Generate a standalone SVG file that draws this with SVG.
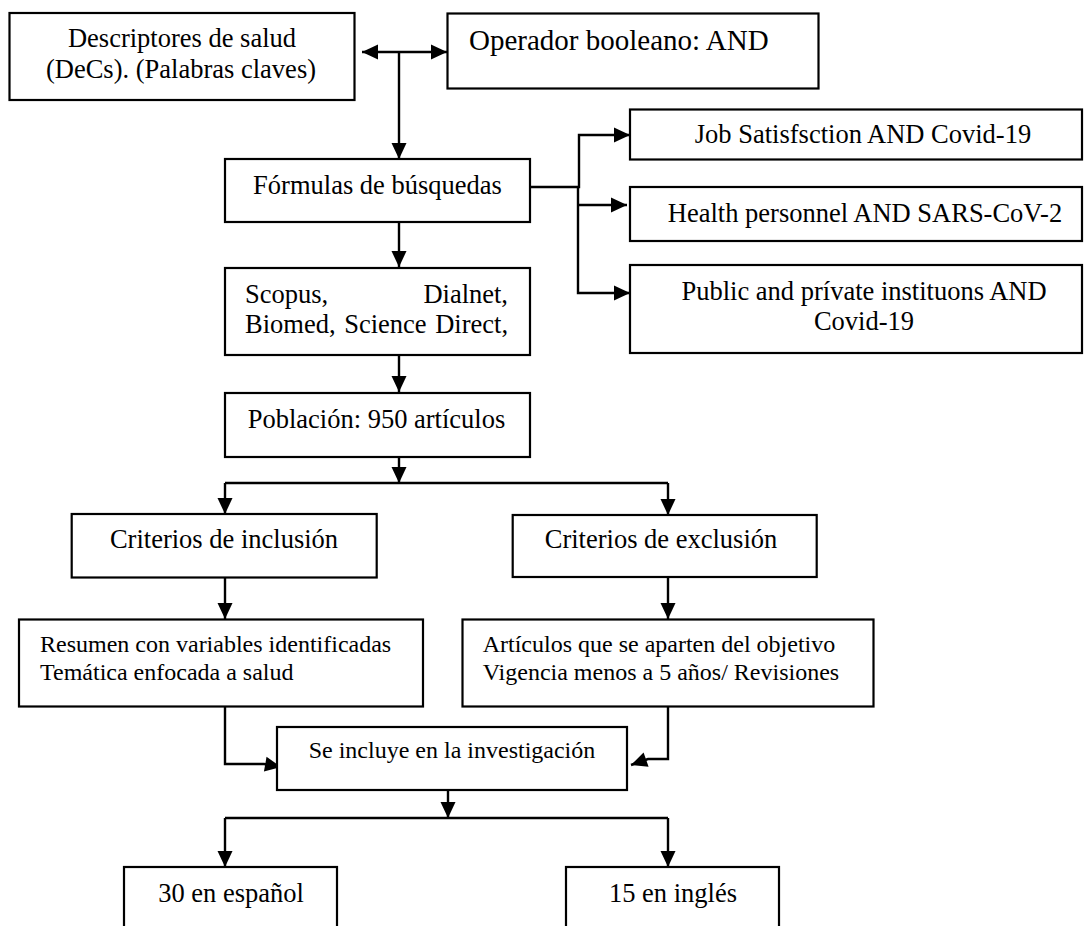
<svg xmlns="http://www.w3.org/2000/svg" width="1086" height="926" viewBox="0 0 1086 926">
<style>
.box{fill:#fff;stroke:#000;stroke-width:2.2}
.t{font-family:"Liberation Serif","Times New Roman",serif;font-size:26.5px;fill:#000}
.s{font-size:24px}
.c{text-anchor:middle}
.e{text-anchor:end}
.ln{fill:none;stroke:#000;stroke-width:2.4}
</style>
<defs>
<marker id="ah" markerUnits="userSpaceOnUse" markerWidth="17" markerHeight="16" refX="16" refY="8" orient="auto" overflow="visible">
<path d="M0,0.5 L16,8 L0,15.5 Z" fill="#000"/>
</marker>
</defs>
<rect width="1086" height="926" fill="#fff"/>
<g id="connectors">
<path class="ln" d="M399,52 H362" marker-end="url(#ah)"/>
<path class="ln" d="M399,52 H447" marker-end="url(#ah)"/>
<path class="ln" d="M399,52 V159" marker-end="url(#ah)"/>
<path class="ln" d="M530,187 H579 V135 H630" marker-end="url(#ah)"/>
<path class="ln" d="M578,187 V293 H630" marker-end="url(#ah)"/>
<path class="ln" d="M578,205 H627" marker-end="url(#ah)"/>
<path class="ln" d="M399,222 V267" marker-end="url(#ah)"/>
<path class="ln" d="M399,355 V392" marker-end="url(#ah)"/>
<path class="ln" d="M399,457 V483" marker-end="url(#ah)"/>
<path class="ln" d="M225,483 H668"/>
<path class="ln" d="M225,483 V514" marker-end="url(#ah)"/>
<path class="ln" d="M668,483 V515" marker-end="url(#ah)"/>
<path class="ln" d="M225,577 V619" marker-end="url(#ah)"/>
<path class="ln" d="M668,577 V619" marker-end="url(#ah)"/>
<path class="ln" d="M225,707 V764 H264 L281,767" marker-end="url(#ah)"/>
<path class="ln" d="M668,707 V759 H648 L631,765" marker-end="url(#ah)"/>
<path class="ln" d="M448,790 V818" marker-end="url(#ah)"/>
<path class="ln" d="M225,818 H668"/>
<path class="ln" d="M225,818 V867" marker-end="url(#ah)"/>
<path class="ln" d="M668,818 V867" marker-end="url(#ah)"/>
</g>
<g id="n1"><rect class="box" x="9.5" y="13" width="345" height="87"/>
<text class="t c" x="182" y="46.7">Descriptores de salud</text>
<text class="t c" x="181" y="77.5">(DeCs). (Palabras claves)</text></g>
<g id="n2"><rect class="box" x="447.5" y="13.5" width="371" height="75"/>
<text class="t" x="469" y="50" style="font-size:29px">Operador booleano: AND</text></g>
<g id="n3"><rect class="box" x="225" y="159" width="305" height="63"/>
<text class="t c" x="377.5" y="194">Fórmulas de búsquedas</text></g>
<g id="n4"><rect class="box" x="630" y="109.5" width="452" height="50"/>
<text class="t c" x="863" y="143.3">Job Satisfsction AND Covid-19</text></g>
<g id="n5"><rect class="box" x="630" y="187" width="452" height="54"/>
<text class="t c" x="865" y="221.7">Health personnel AND SARS-CoV-2</text></g>
<g id="n6"><rect class="box" x="630" y="265" width="452" height="88"/>
<text class="t c" x="864" y="300">Public and prívate instituons AND</text>
<text class="t c" x="864" y="330">Covid-19</text></g>
<g id="n7"><rect class="box" x="225" y="268" width="305" height="87"/>
<text class="t" x="245" y="303">Scopus,</text>
<text class="t e" x="508" y="303">Dialnet,</text>
<text class="t" x="245" y="333" style="word-spacing:2px">Biomed, Science Direct,</text></g>
<g id="n8"><rect class="box" x="225" y="393" width="305" height="64"/>
<text class="t c" x="376.5" y="428">Población: 950 artículos</text></g>
<g id="n9"><rect class="box" x="71.7" y="514" width="305" height="63.5"/>
<text class="t c" x="224" y="548.3">Criterios de inclusión</text></g>
<g id="n10"><rect class="box" x="512.7" y="515" width="304" height="62"/>
<text class="t c" x="661" y="548.3">Criterios de exclusión</text></g>
<g id="n11"><rect class="box" x="19" y="619.5" width="404" height="87"/>
<text class="t s" x="40" y="651.7">Resumen con variables identificadas</text>
<text class="t s" x="40" y="680">Temática enfocada a salud</text></g>
<g id="n12"><rect class="box" x="462.5" y="619.5" width="411" height="87"/>
<text class="t s" x="482.7" y="651.7">Artículos que se aparten del objetivo</text>
<text class="t s" x="482.7" y="680">Vigencia menos a 5 años/ Revisiones</text></g>
<g id="n13"><rect class="box" x="277" y="727" width="350" height="63"/>
<text class="t s c" x="452" y="758.3">Se incluye en la investigación</text></g>
<g id="n14"><rect class="box" x="124" y="867" width="213" height="80"/>
<text class="t c" x="231" y="901.7">30 en español</text></g>
<g id="n15"><rect class="box" x="566" y="867" width="213" height="80"/>
<text class="t c" x="673" y="901.7">15 en inglés</text></g>
</svg>
